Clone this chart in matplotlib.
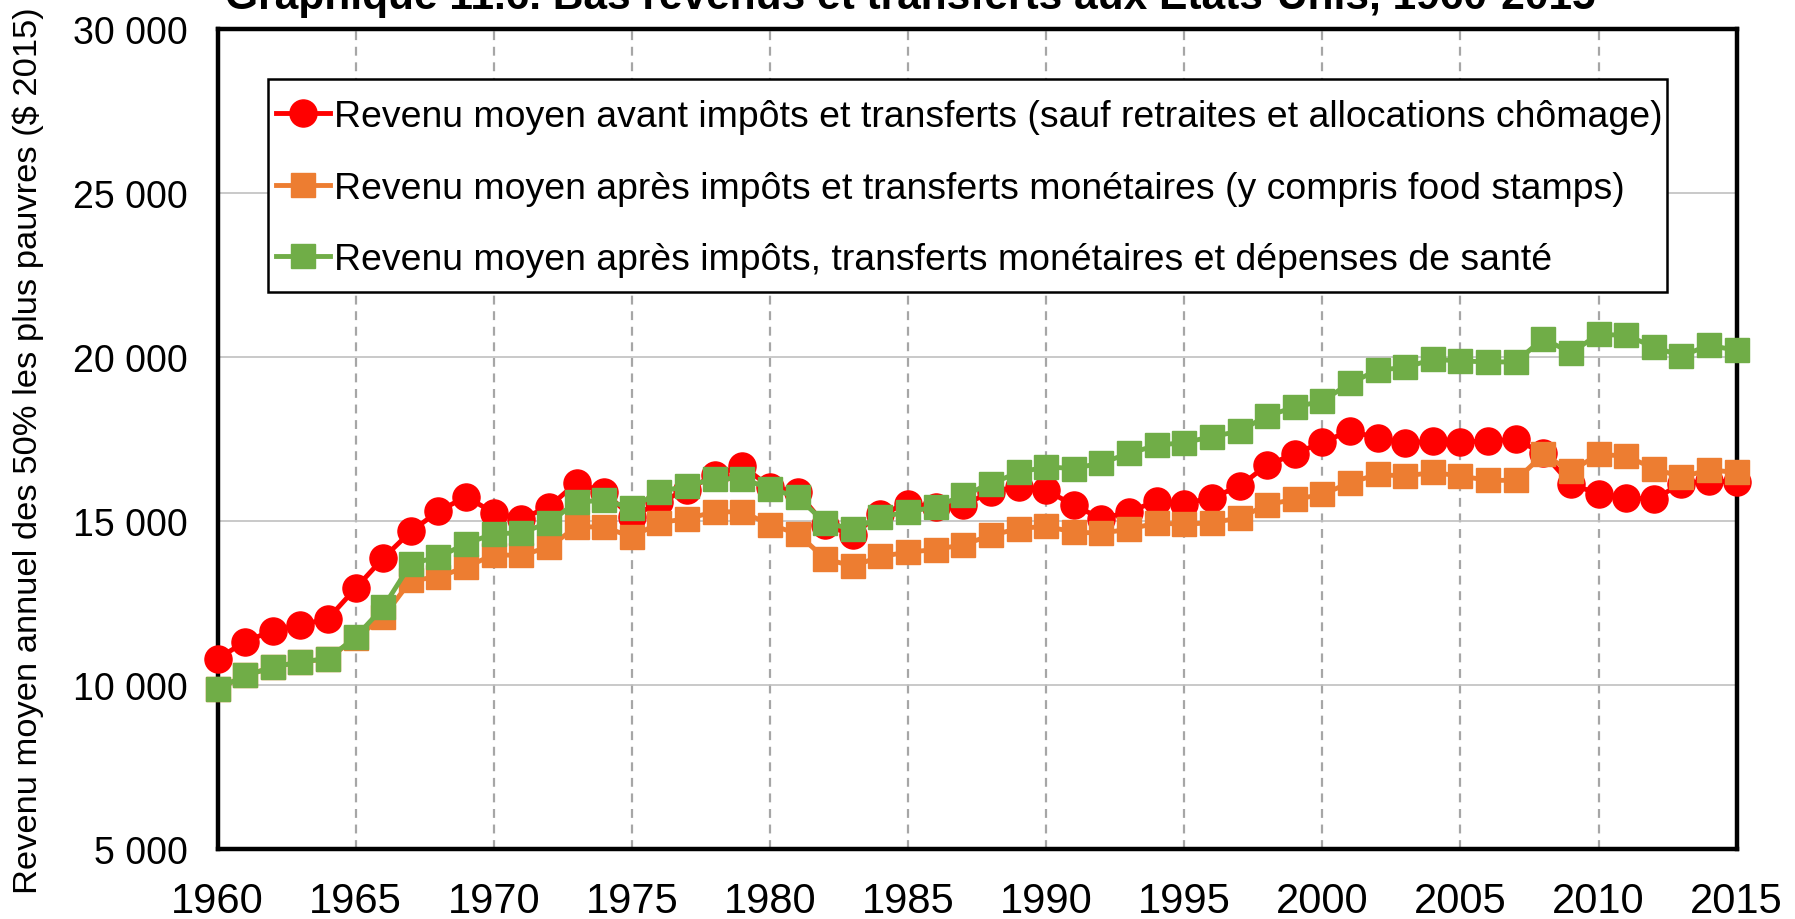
import matplotlib
matplotlib.use("Agg")
import matplotlib.pyplot as plt
from matplotlib.ticker import FuncFormatter, MultipleLocator
from matplotlib.patches import Rectangle

plt.rcParams['font.family'] = ['Liberation Sans', 'DejaVu Sans']

years = list(range(1960, 2016))

avant = [10800, 11320, 11660, 11830, 12020, 12950, 13870, 14680, 15300, 15740,
         15250, 15070, 15430, 16170, 15880, 15120, 15580, 15950, 16400, 16680,
         16040, 15880, 14870, 14580, 15220, 15530, 15430, 15480, 15890, 16040,
         15940, 15480, 15070, 15280, 15610, 15530, 15710, 16060, 16710, 17040,
         17410, 17740, 17540, 17370, 17440, 17410, 17440, 17490, 17060, 16120,
         15830, 15710, 15660, 16140, 16220, 16190]

apres_monetaire = [9880, 10290, 10540, 10710, 10790, 11440, 12070, 13190, 13290, 13600,
                   13970, 13950, 14210, 14820, 14820, 14510, 14950, 15070, 15280, 15280,
                   14890, 14610, 13850, 13620, 13920, 14050, 14130, 14280, 14560, 14770,
                   14840, 14660, 14630, 14750, 14940, 14900, 14950, 15090, 15500, 15660,
                   15810, 16170, 16420, 16370, 16480, 16370, 16240, 16240, 17030, 16520,
                   17030, 16980, 16600, 16340, 16560, 16480]

apres_sante = [9880, 10290, 10540, 10710, 10800, 11460, 12370, 13700, 13900, 14310,
               14610, 14640, 14950, 15580, 15630, 15400, 15890, 16070, 16290, 16290,
               15990, 15730, 14950, 14750, 15120, 15280, 15430, 15780, 16140, 16480,
               16650, 16600, 16770, 17060, 17310, 17390, 17570, 17740, 18205, 18470,
               18660, 19200, 19600, 19680, 19930, 19880, 19850, 19850, 20560, 20130,
               20690, 20660, 20310, 20030, 20360, 20200]

labels = ["Revenu moyen avant impôts et transferts (sauf retraites et allocations chômage)",
          "Revenu moyen après impôts et transferts monétaires (y compris food stamps)",
          "Revenu moyen après impôts, transferts monétaires et dépenses de santé"]
title = "Graphique 11.6. Bas revenus et transferts aux Etats-Unis, 1960-2015"
ylabel = "Revenu moyen annuel des 50% les plus pauvres ($ 2015)"

W, H = 1795, 920
fig = plt.figure(figsize=(W / 100, H / 100), dpi=100)
ax = fig.add_axes([217.5 / W, 1 - 850 / H, (1736.7 - 217.5) / W, (850 - 30) / H])

ms_c = 19.5
ms_s = 17
lw = 3.5
ax.plot(years, avant, color='#FF0000', marker='o', markersize=ms_c, linewidth=lw,
        label=labels[0], zorder=3, clip_on=False)
ax.plot(years, apres_monetaire, color='#ED7D31', marker='s', markersize=ms_s, linewidth=lw,
        label=labels[1], zorder=4, clip_on=False)
ax.plot(years, apres_sante, color='#70AD47', marker='s', markersize=ms_s, linewidth=lw,
        label=labels[2], zorder=5, clip_on=False)

ax.set_xlim(1960, 2015)
ax.set_ylim(5000, 30000)
ax.xaxis.set_major_locator(MultipleLocator(5))
ax.yaxis.set_major_locator(MultipleLocator(5000))
ax.yaxis.set_major_formatter(FuncFormatter(lambda v, p: f"{int(v):,}".replace(",", " ")))

ax.grid(axis='y', color='#C0C0C0', linewidth=1.2, linestyle='-', zorder=0)
ax.grid(axis='x', color='#A6A6A6', linewidth=1.6, linestyle=(0, (4, 3)), zorder=0)
ax.set_axisbelow(True)

for s in ax.spines.values():
    s.set_linewidth(3.2)
    s.set_color('black')

ax.tick_params(axis='both', length=0)
ax.tick_params(axis='x', pad=23, labelsize=30)
ax.tick_params(axis='y', pad=21.5, labelsize=27)

fig.text(28 / W, 1 - 451 / H, ylabel, rotation=90, ha='center', va='center', fontsize=24.8)
fig.text(910 / W, 1 - 9 / H, title, ha='center', va='baseline', fontsize=30.6, fontweight='bold')

# legend frame (drawn separately so the padding matches)
frame = Rectangle((268 / W, 1 - 293 / H), (1667 - 268) / W, (293 - 80) / H,
                  transform=fig.transFigure, facecolor='white', edgecolor='black',
                  linewidth=1.8, zorder=9, clip_on=False)
ax.add_patch(frame)

leg = ax.legend(loc='upper left', bbox_to_anchor=(276 / W, 1 - 100 / H),
                bbox_transform=fig.transFigure, borderaxespad=0,
                fontsize=26.9, frameon=False, handlelength=1.45, handletextpad=0.1,
                labelspacing=0.98, borderpad=0)
leg.set_zorder(10)

fig.savefig("out.png", dpi=100)
